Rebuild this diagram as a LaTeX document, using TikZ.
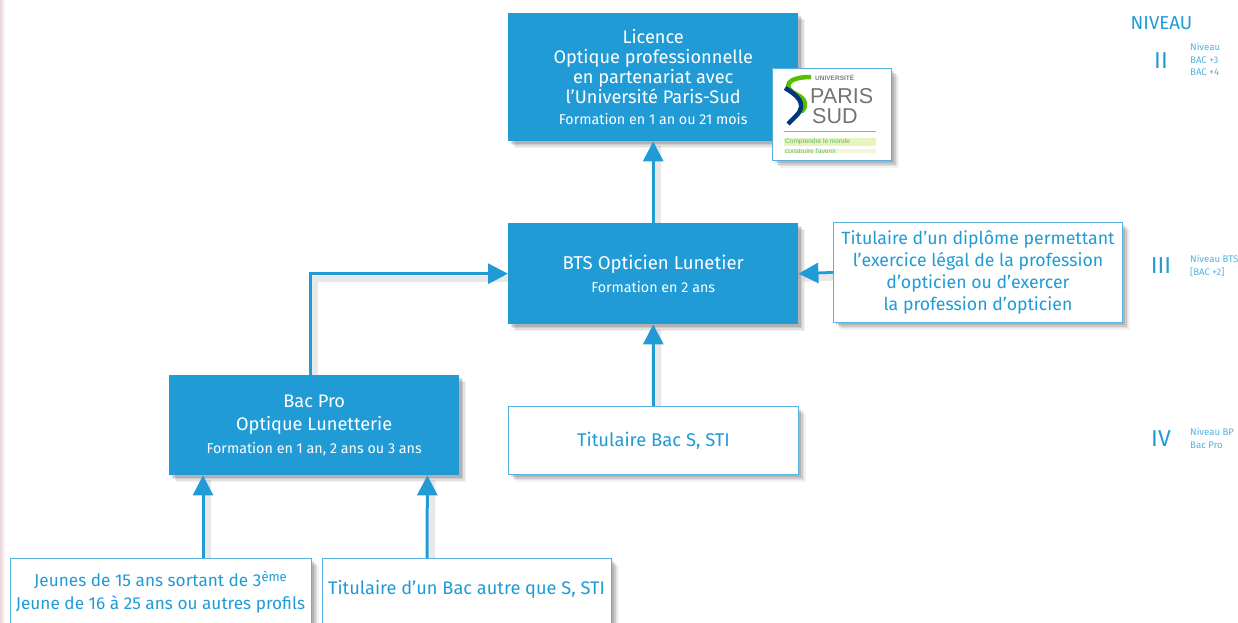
\documentclass[tikz,border=0pt]{standalone}
\usepackage{fontspec}
\setmainfont{Fira Sans}
\usetikzlibrary{arrows.meta,shadows,calc,backgrounds}
\definecolor{bleu}{HTML}{209BD6}
\definecolor{lbleu}{HTML}{55B1E0}
\newfontfamily\logofont{Liberation Sans}
\newcommand{\bigtxt}{\fontsize{18.2}{20}\selectfont}
\newcommand{\widetxt}{\fontsize{17.7}{22}\selectfont}
\newcommand{\smalltxt}{\fontsize{14.3}{18}\selectfont}
\newcommand{\sq}{\char39 }
\tikzset{
  x=1pt,y=-1pt,
  softshadow/.style={
    general shadow={shadow xshift=7pt,shadow yshift=-7pt,fill=black,opacity=.05},
    general shadow={shadow xshift=5.5pt,shadow yshift=-5.5pt,fill=black,opacity=.07},
    general shadow={shadow xshift=4pt,shadow yshift=-4pt,fill=black,opacity=.09},
    general shadow={shadow xshift=2.5pt,shadow yshift=-2.5pt,fill=black,opacity=.12}},
  solid box/.style={softshadow,anchor=north west,fill=bleu,draw=none,text=white,align=center,inner sep=0pt,font=\bigtxt},
  line box/.style={softshadow,anchor=north west,fill=white,draw=lbleu,line width=1pt,text=bleu,align=center,inner sep=0pt,font=\widetxt},
  link/.style={draw=bleu,line width=3pt,-{Triangle[length=20pt,width=20pt,fill=bleu]}},
  linkshadow/.style={draw=black,opacity=.09,line width=6pt},
  levelmark/.style={text=bleu,font=\fontsize{23}{23}\selectfont,inner sep=0pt,anchor=center},
  levelnote/.style={text=lbleu,font=\fontsize{9.6}{12.5}\selectfont,inner sep=0pt,anchor=north west,align=left},
  plain/.style={text=bleu,inner sep=0pt,align=center,font=\widetxt}
}
\begin{document}
\begin{tikzpicture}
\useasboundingbox (0,0) rectangle (1238,622);

\node[solid box,minimum width=290pt,minimum height=128pt] (licence) at (508,13) {Licence\\Optique professionnelle\\en partenariat avec\\l\sq Université Paris-Sud\\[1pt]{\smalltxt Formation en 1 an ou 21 mois}};
\node[solid box,minimum width=290pt,minimum height=101pt] (bts) at (508,223) {{\fontsize{18.6}{20}\selectfont BTS Opticien Lunetier}\\[3pt]{\smalltxt Formation en 2 ans}};
\node[line box,minimum width=289pt,minimum height=100pt] (diplome) at (833,222) {Titulaire d’un diplôme permettant\\l’exercice légal de la profession\\d’opticien ou d\sq exercer\\la profession d’opticien};
\node[solid box,minimum width=290pt,minimum height=100pt] (bacpro) at (169,375) {Bac Pro\\[3pt]Optique Lunetterie\\[3pt]{\smalltxt Formation en 1 an, 2 ans ou 3 ans}};
\node[line box,minimum width=290pt,minimum height=68pt] (bacs) at (508,406) {{\fontsize{18.4}{20}\selectfont Titulaire Bac S, STI}};
\node[line box,minimum width=301pt,minimum height=80pt] (jeunes) at (10,558) {};
\node[line box,minimum width=289pt,minimum height=80pt] (autre) at (322,558) {};
\node[plain,font=\fontsize{17.2}{23}\selectfont] (jeunestxt) at (160.5,592) {Jeunes de 15 ans sortant de 3\raisebox{5pt}{\fontsize{13}{13}\selectfont ème}\\Jeune de 16 à 25 ans ou autres profils};
\node[plain,font=\bigtxt] (autretxt) at (466.5,589) {Titulaire d\sq un Bac autre que S, STI};

\begin{scope}[on background layer]
\fill[white] (0,0) rectangle (1238,622);
\fill[left color=red!30!gray!25,right color=white] (0,0) rectangle (5,622);
\begin{scope}[transform canvas={xshift=5pt,yshift=-5pt}]
\draw[linkshadow] (bts.north) -- (licence.south);
\draw[linkshadow] (bacs.north) -- (bts.south);
\draw[linkshadow] (diplome.west) -- (bts.east);
\draw[linkshadow] ([xshift=-149pt]bacpro.north east) |- (bts.west);
\draw[linkshadow] ($(jeunes.north west)+(193,0)$) -- ($(bacpro.south west)+(34,0)$);
\draw[linkshadow] ($(autre.north west)+(105,0)$) -- ($(bacpro.south east)+(-32,0)$);
\end{scope}
\end{scope}

\draw[link] (bts.north) -- (licence.south);
\draw[link] (bacs.north) -- (bts.south);
\draw[link] (diplome.west) -- (bts.east);
\draw[link] ([xshift=-149pt]bacpro.north east) |- (bts.west);
\draw[link] ($(jeunes.north west)+(193,0)$) -- ($(bacpro.south west)+(34,0)$);
\draw[link] ($(autre.north west)+(105,0)$) -- ($(bacpro.south east)+(-32,0)$);

% logo
\node[softshadow,anchor=north west,fill=white,draw=lbleu,line width=1pt,minimum width=119pt,minimum height=92pt,inner sep=0pt] (logo) at (772,68) {};
\draw[line width=4.5pt,draw=green!55!yellow!75!black] (811,77) .. controls (785,77) and (783,88) .. (796,94) .. controls (806,99) and (808,106) .. (801,112);
\draw[line width=4.5pt,draw=teal!60!blue!70!black] (785,88) .. controls (797,95) and (808,104) .. (796,116) -- (788,124);
\node[anchor=west,inner sep=0pt,text=black!50,font=\logofont\fontsize{6.5}{7}\selectfont\bfseries] (u) at (815,78) {UNIVERSITÉ};
\node[anchor=west,inner sep=0pt,text=black!55,font=\logofont\fontsize{21.5}{22}\selectfont] (p) at (810,96) {PARIS};
\node[anchor=west,inner sep=0pt,text=black!55,font=\logofont\fontsize{21.5}{22}\selectfont] (s) at (812,116) {SUD};
\draw[black!35,line width=1pt] (784,131.5) -- (876,131.5);
\fill[yellow!60!green!25] (784,138) rectangle (876,146);
\fill[yellow!60!green!15] (784,149) rectangle (876,153);
\node[anchor=west,inner sep=0pt,text=black!50!green!60,font=\logofont\fontsize{6.5}{7}\selectfont] (c1) at (785,142) {Comprendre le monde};
\node[anchor=west,inner sep=0pt,text=black!50!green!60,font=\logofont\fontsize{6.5}{7}\selectfont] (c2) at (785,151) {construire l\sq avenir};

% levels
\node[anchor=center,inner sep=0pt,text=bleu,font=\fontsize{18.7}{20}\selectfont] (niveau) at (1161.5,23) {NIVEAU};
\node[levelmark] (l2) at (1161,60.5) {II};
\node[levelnote] (n2) at (1190,43) {Niveau\\BAC +3\\BAC +4};
\node[levelmark] (l3) at (1161,266) {III};
\node[levelnote] (n3) at (1190,255) {Niveau BTS\\{[BAC +2]}};
\node[levelmark] (l4) at (1161,439) {IV};
\node[levelnote] (n4) at (1190,428) {Niveau BP\\Bac Pro};
\end{tikzpicture}
\end{document}
